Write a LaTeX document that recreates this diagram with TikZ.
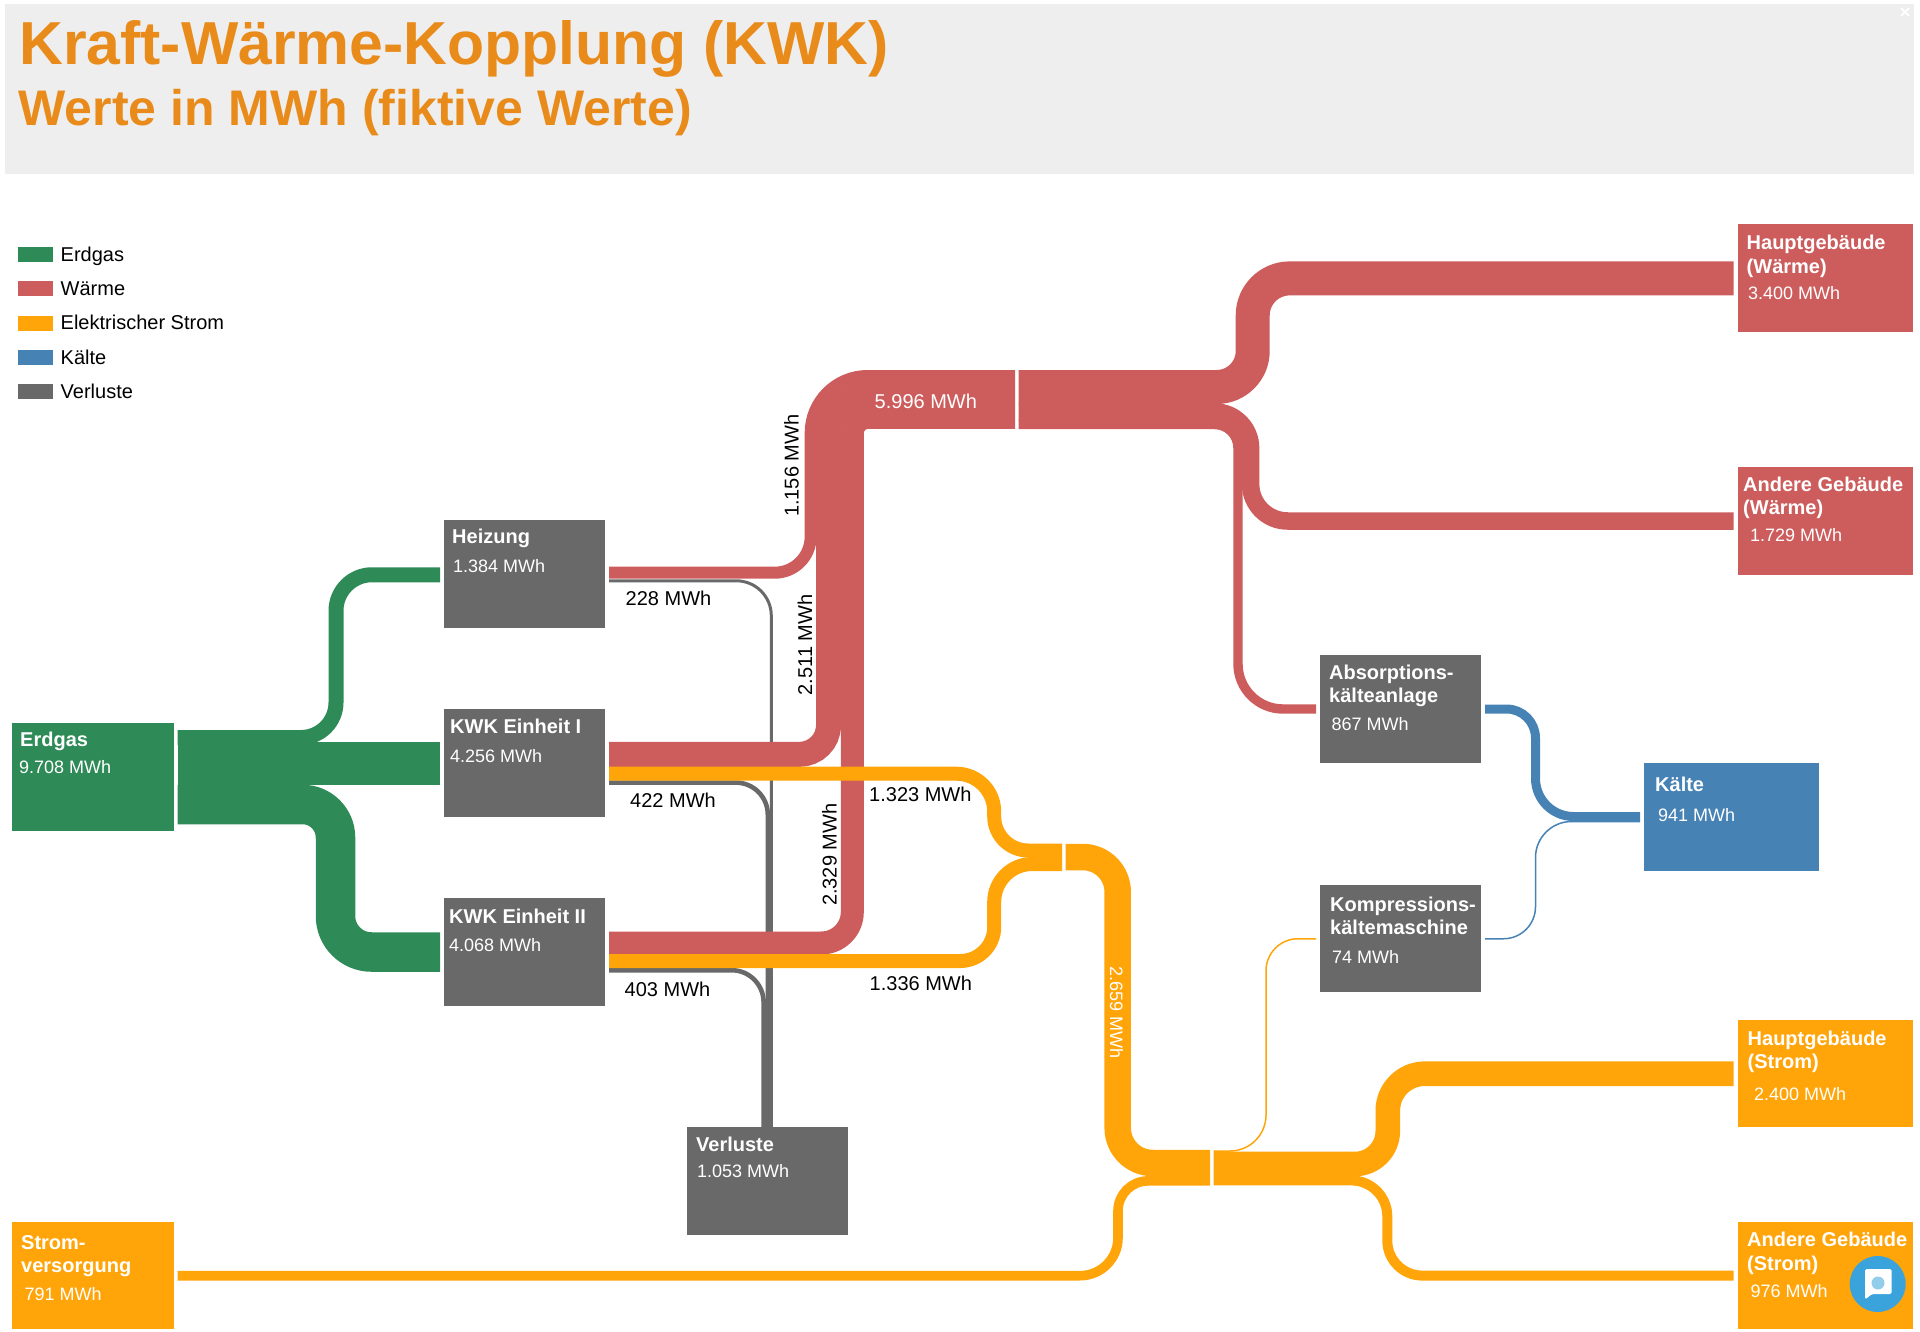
\documentclass[tikz,border=0pt]{standalone}
\usepackage{fontspec}
\setmainfont{Liberation Sans}
\definecolor{cGreen}{HTML}{2E8B57}
\definecolor{cRed}{HTML}{CD5C5C}
\definecolor{cOrange}{HTML}{FFA50A}
\definecolor{cBlue}{HTML}{4682B4}
\definecolor{cGrey}{HTML}{696969}
\definecolor{cHead}{HTML}{EEEEEE}
\definecolor{cTitle}{HTML}{E88B1A}
\definecolor{cChat}{HTML}{3BA3DC}
\tikzset{
  boxn/.style={fill=#1,draw=none,inner sep=0pt,outer sep=0pt,anchor=north west},
  swatch/.style={fill=#1,draw=none,inner sep=0pt,anchor=north west,minimum width=35pt,minimum height=15pt},
  ttl/.style={text=white,inner sep=0pt,anchor=base west,align=left,font=\fontsize{20}{23.5}\selectfont\bfseries},
  val/.style={text=white,inner sep=0pt,anchor=base west,font=\fontsize{18}{22}\selectfont},
  flowlab/.style={text=black,inner sep=0pt,anchor=base west,font=\fontsize{20}{24}\selectfont},
  flowlabw/.style={text=white,inner sep=0pt,anchor=base west,font=\fontsize{20}{24}\selectfont},
  leg/.style={text=black,inner sep=0pt,anchor=base west,font=\fontsize{20}{24}\selectfont},
  fg/.style={draw=cGreen,line width=#1pt,line cap=butt},
  fr/.style={draw=cRed,line width=#1pt,line cap=butt},
  fo/.style={draw=cOrange,line width=#1pt,line cap=butt},
  fb/.style={draw=cBlue,line width=#1pt,line cap=butt},
  fv/.style={draw=cGrey,line width=#1pt,line cap=butt},
}
\newcommand{\nbox}[6]{\node[boxn=#6,minimum width=#4pt-#2pt,minimum height=#5pt-#3pt] (#1) at (#2,#3) {};}
\begin{document}
\begin{tikzpicture}[x=1pt,y=-1pt]
\useasboundingbox (0,0) rectangle (1920,1332);
% header
\fill[cHead] (5,4) rectangle (1914,174);
\node[inner sep=0pt,anchor=base west,text=cTitle,font=\fontsize{60.7}{70}\selectfont\bfseries] (title) at (19,65) {Kraft-Wärme-Kopplung (KWK)};
\node[inner sep=0pt,anchor=base west,text=cTitle,font=\fontsize{50}{56}\selectfont\bfseries] (subtitle) at (18.5,126) {Werte in MWh (fiktive Werte)};
\draw[white,line width=2pt] (1901,8) -- (1909,16) (1909,8) -- (1901,16);
% legend
\node[swatch=cGreen] (lg1) at (18,247) {};
\node[swatch=cRed] (lg2) at (18,281) {};
\node[swatch=cOrange] (lg3) at (18,316) {};
\node[swatch=cBlue] (lg4) at (18,350) {};
\node[swatch=cGrey] (lg5) at (18,384) {};
\node[leg] (lt1) at (60.5,261.5) {Erdgas};
\node[leg] (lt2) at (60.5,295.5) {Wärme};
\node[leg] (lt3) at (60.5,330) {Elektrischer Strom};
\node[leg] (lt4) at (60.5,364) {Kälte};
\node[leg] (lt5) at (60.5,398.5) {Verluste};
% boxes
\nbox{erdgas}{12}{723}{174}{831}{cGreen}
\nbox{heizung}{444}{520}{605}{628}{cGrey}
\nbox{kwka}{444}{709}{605}{817}{cGrey}
\nbox{kwkb}{444}{898}{605}{1006}{cGrey}
\nbox{verluste}{687}{1127}{848}{1235}{cGrey}
\nbox{absorb}{1320}{655}{1481}{763}{cGrey}
\nbox{kompr}{1320}{884.5}{1481}{992}{cGrey}
\nbox{kaelte}{1644}{763}{1819}{871}{cBlue}
\nbox{hgw}{1738}{224}{1913}{332}{cRed}
\nbox{agw}{1738}{467}{1913}{575}{cRed}
\nbox{hgs}{1738}{1020}{1913}{1127}{cOrange}
\nbox{ags}{1738}{1222}{1913}{1329}{cOrange}
\nbox{strom}{12}{1222}{174}{1329}{cOrange}
% junctions
\coordinate (wL) at (1015,399.3);
\coordinate (wR) at (1018.5,399.3);
\coordinate (oL) at (1062,857);
\coordinate (oR) at (1065.6,857);
\coordinate (eL) at (1210,1168);
\coordinate (eR) at (1213.5,1168);
% loss flows (behind)
\draw[fv=3,rounded corners=35pt] ([shift={(4,60.8)}]heizung.north east) -- (771.3,580.8) -- ([shift={(84.3,0)}]verluste.north west);
\draw[fv=4.6,rounded corners=32pt] ([shift={(4,73.6)}]kwka.north east) -- (767.8,782.6) -- ([shift={(80.8,0)}]verluste.north west);
\draw[fv=4.6,rounded corners=32pt] ([shift={(4,72.2)}]kwkb.north east) -- (763.6,970.2) -- ([shift={(76.6,0)}]verluste.north west);
% gas flows
\draw[fg=15] ([shift={(3.5,14.5)}]erdgas.north east) [rounded corners=35pt] -- (336,737.5) [rounded corners=36pt] -- (336,574.75) -- ([shift={(-4,54.75)}]heizung.north west);
\draw[fg=43] ([shift={(3.5,40.5)}]erdgas.north east) -- ([shift={(-4,54.5)}]kwka.north west);
\draw[fg=39.5] ([shift={(3.5,81.5)}]erdgas.north east) [rounded corners=33pt] -- (335.5,804.5) [rounded corners=36pt] -- (335.5,952) -- ([shift={(-4,54)}]kwkb.north west);
% heat flows
\draw[fr=12] ([shift={(4,52.7)}]heizung.north east) [rounded corners=36pt] -- (810.65,572.7) [rounded corners=57pt] -- (810.65,376) -- ([shift={(0,-23.3)}]wL);
\draw[fr=25] ([shift={(4,45.3)}]kwka.north east) [rounded corners=29pt] -- (828.5,754.3) [rounded corners=40pt] -- (828.5,393.8) -- ([shift={(0,-5.5)}]wL);
\draw[fr=23] ([shift={(4,45)}]kwkb.north east) [rounded corners=31pt] -- (852.3,943) [rounded corners=16pt] -- (852.3,417.3) -- ([shift={(0,18)}]wL);
\draw[fr=34] ([shift={(0,-12.3)}]wR) [rounded corners=36pt] -- (1252.7,387) [rounded corners=37pt] -- (1252.7,278.4) -- ([shift={(-4.4,54.4)}]hgw.north west);
\draw[fr=17.5] ([shift={(0,12.7)}]wR) [rounded corners=36pt] -- (1250.6,412) [rounded corners=37pt] -- (1250.6,521) -- ([shift={(-4.4,54)}]agw.north west);
\draw[fr=9.4] ([shift={(0,25.2)}]wR) [rounded corners=23.4pt] -- (1238,424.5) [rounded corners=45pt] -- (1238,709) -- ([shift={(-4,54)}]absorb.north west);
% electricity flows
\draw[fo=14] ([shift={(4,64.7)}]kwka.north east) [rounded corners=38pt] -- (994.2,773.7) [rounded corners=34pt] -- (994.2,850.5) -- ([shift={(0,-6.5)}]oL);
\draw[fo=14] ([shift={(4,63)}]kwkb.north east) [rounded corners=34pt] -- (994.2,961) [rounded corners=38pt] -- (994.2,864) -- ([shift={(0,7)}]oL);
\draw[fo=26.5] (oR) [rounded corners=35pt] -- (1117.7,857) [rounded corners=35pt] -- (1117.7,1163) -- ([shift={(0,-5)}]eL);
\draw[fo=9.6] ([shift={(3.5,53.7)}]strom.north east) [rounded corners=38pt] -- (1118,1275.7) [rounded corners=30pt] -- (1118,1180.9) -- ([shift={(0,12.9)}]eL);
\draw[fo=1.5] ([shift={(0,-17)}]eR) [rounded corners=36pt] -- (1266,1151) [rounded corners=32pt] -- (1266,938.75) -- ([shift={(-4,54.25)}]kompr.north west);
\draw[fo=24.6] ([shift={(0,-4)}]eR) [rounded corners=33pt] -- (1387.8,1164) [rounded corners=37pt] -- (1387.8,1073.7) -- ([shift={(-4.4,53.7)}]hgs.north west);
\draw[fo=10] ([shift={(0,12.4)}]eR) [rounded corners=36pt] -- (1387.3,1180.4) [rounded corners=35pt] -- (1387.3,1275.6) -- ([shift={(-4.4,53.6)}]ags.north west);
% cold flows
\draw[fb=9] ([shift={(4,54)}]absorb.north east) [rounded corners=29pt] -- (1535.5,709) [rounded corners=38pt] -- (1535.5,816.5) -- ([shift={(-4,53.5)}]kaelte.north west);
\draw[fb=1.5] ([shift={(4,54.25)}]kompr.north east) [rounded corners=32pt] -- (1535.5,938.75) [rounded corners=36pt] -- (1535.5,821.5) -- ([shift={(-4,58.5)}]kaelte.north west);
% box labels
\node[ttl] (t1) at (20,746) {Erdgas};
\node[val] (v1) at (19,773) {9.708 MWh};
\node[ttl] (t2) at (452,543) {Heizung};
\node[val] (v2) at (453,572) {1.384 MWh};
\node[ttl] (t3) at (450,733) {KWK Einheit I};
\node[val] (v3) at (450,762) {4.256 MWh};
\node[ttl] (t4) at (449,923) {KWK Einheit II};
\node[val] (v4) at (449,951) {4.068 MWh};
\node[ttl] (t5) at (696,1151) {Verluste};
\node[val] (v5) at (697,1177) {1.053 MWh};
\node[ttl] (t6) at (1329,702.5) {Absorptions-\\kälteanlage};
\node[val] (v6) at (1331.5,730) {867 MWh};
\node[ttl] (t7) at (1330,934.5) {Kompressions-\\kältemaschine};
\node[val] (v7) at (1332,963) {74 MWh};
\node[ttl] (t8) at (1655,791) {Kälte};
\node[val] (v8) at (1658,821.5) {941 MWh};
\node[ttl] (t9) at (1746.5,273.5) {Hauptgebäude\\(Wärme)};
\node[val] (v9) at (1748,300) {3.400 MWh};
\node[ttl] (t10) at (1743,514.5) {Andere Gebäude\\(Wärme)};
\node[val] (v10) at (1750,541) {1.729 MWh};
\node[ttl] (t11) at (1747.5,1068.5) {Hauptgebäude\\(Strom)};
\node[val] (v11) at (1754,1100) {2.400 MWh};
\node[ttl] (t12) at (1747,1270) {Andere Gebäude\\(Strom)};
\node[val] (v12) at (1750.5,1297) {976 MWh};
\node[ttl] (t13) at (21,1272.5) {Strom-\\versorgung};
\node[val] (v13) at (24.5,1300) {791 MWh};
% flow labels
\node[flowlab] (f1) at (625.5,605) {228 MWh};
\node[flowlab] (f2) at (630,807) {422 MWh};
\node[flowlab] (f3) at (624.5,996) {403 MWh};
\node[flowlab] (f4) at (869,801) {1.323 MWh};
\node[flowlab] (f5) at (869.5,990.5) {1.336 MWh};
\node[flowlabw] (f6) at (874.5,408) {5.996 MWh};
\node[flowlab,rotate=90] (f7) at (798.7,517) {1.156 MWh};
\node[flowlab,rotate=90] (f8) at (812,695.5) {2.511 MWh};
\node[flowlab,rotate=90] (f9) at (836.6,906) {2.329 MWh};
\node[val,rotate=-90] (f10) at (1110,966) {2.659 MWh};
% chat widget
\fill[cChat] (1877.7,1284) circle[radius=28];
\fill[white,rounded corners=1.5pt] (1865,1269) -- (1891.7,1269) -- (1891.7,1294) -- (1872,1294) -- (1865,1299.5) -- cycle;
\fill[cChat!55!white] (1878,1283) circle[radius=6.5];
\end{tikzpicture}
\end{document}
